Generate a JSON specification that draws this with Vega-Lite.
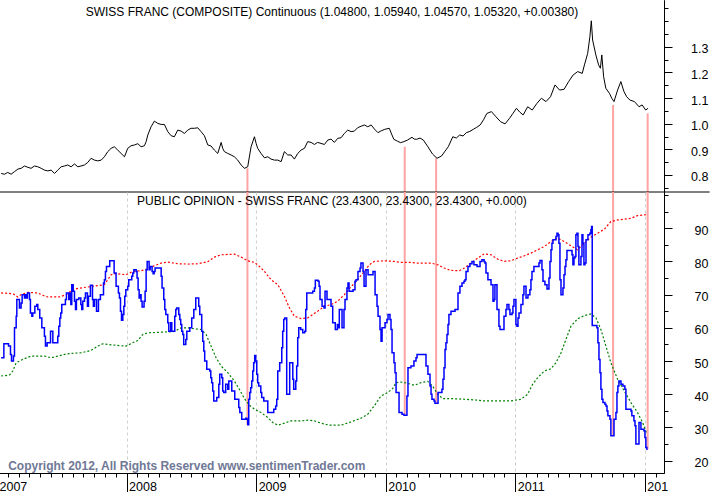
{
  "$schema": "https://vega.github.io/schema/vega-lite/v6.json",
  "description": "Swiss franc price vs public opinion",
  "padding": {"left": -4, "top": 0, "right": 0, "bottom": 0},
  "background": "white",
  "spacing": 0,
  "bounds": "flush",
  "config": {
    "font": "Liberation Sans",
    "view": {"stroke": null},
    "axis": {"labelColor": "black", "domainColor": "black", "tickColor": "black", "labelFont": "Liberation Sans", "title": null}
  },
  "datasets": {
    "events": [
      {"t": 2008.933, "p": 0.826, "s": 30.8},
      {"t": 2010.147, "p": 0.910, "s": 33.7},
      {"t": 2010.389, "p": 0.865, "s": 37.3},
      {"t": 2011.755, "p": 1.073, "s": 27.5},
      {"t": 2012.022, "p": 1.040, "s": 23.5}
    ],
    "price": [
      {"t": 2007.032, "v": 0.806}, {"t": 2007.058, "v": 0.803}, {"t": 2007.083, "v": 0.810}, {"t": 2007.109, "v": 0.803},
      {"t": 2007.135, "v": 0.813}, {"t": 2007.161, "v": 0.823}, {"t": 2007.186, "v": 0.826}, {"t": 2007.212, "v": 0.835},
      {"t": 2007.238, "v": 0.830}, {"t": 2007.263, "v": 0.826}, {"t": 2007.289, "v": 0.835}, {"t": 2007.315, "v": 0.832},
      {"t": 2007.341, "v": 0.826}, {"t": 2007.366, "v": 0.819}, {"t": 2007.392, "v": 0.816}, {"t": 2007.418, "v": 0.819},
      {"t": 2007.444, "v": 0.806}, {"t": 2007.469, "v": 0.819}, {"t": 2007.495, "v": 0.832}, {"t": 2007.521, "v": 0.835},
      {"t": 2007.546, "v": 0.839}, {"t": 2007.572, "v": 0.832}, {"t": 2007.598, "v": 0.843}, {"t": 2007.624, "v": 0.832},
      {"t": 2007.649, "v": 0.835}, {"t": 2007.675, "v": 0.839}, {"t": 2007.701, "v": 0.849}, {"t": 2007.726, "v": 0.865},
      {"t": 2007.752, "v": 0.858}, {"t": 2007.778, "v": 0.855}, {"t": 2007.804, "v": 0.858}, {"t": 2007.829, "v": 0.871},
      {"t": 2007.855, "v": 0.891}, {"t": 2007.881, "v": 0.904}, {"t": 2007.906, "v": 0.910}, {"t": 2007.932, "v": 0.897},
      {"t": 2007.958, "v": 0.884}, {"t": 2007.984, "v": 0.871}, {"t": 2008.009, "v": 0.904}, {"t": 2008.035, "v": 0.914},
      {"t": 2008.061, "v": 0.917}, {"t": 2008.087, "v": 0.922}, {"t": 2008.112, "v": 0.910}, {"t": 2008.138, "v": 0.914},
      {"t": 2008.151, "v": 0.930}, {"t": 2008.164, "v": 0.956}, {"t": 2008.189, "v": 0.988}, {"t": 2008.215, "v": 1.010},
      {"t": 2008.241, "v": 1.001}, {"t": 2008.267, "v": 0.997}, {"t": 2008.292, "v": 0.997}, {"t": 2008.318, "v": 0.969},
      {"t": 2008.344, "v": 0.953}, {"t": 2008.369, "v": 0.949}, {"t": 2008.395, "v": 0.975}, {"t": 2008.421, "v": 0.971},
      {"t": 2008.447, "v": 0.962}, {"t": 2008.472, "v": 0.975}, {"t": 2008.498, "v": 0.982}, {"t": 2008.524, "v": 0.982},
      {"t": 2008.549, "v": 0.984}, {"t": 2008.575, "v": 0.969}, {"t": 2008.601, "v": 0.953}, {"t": 2008.627, "v": 0.917},
      {"t": 2008.652, "v": 0.913}, {"t": 2008.678, "v": 0.897}, {"t": 2008.704, "v": 0.884}, {"t": 2008.730, "v": 0.927},
      {"t": 2008.742, "v": 0.904}, {"t": 2008.755, "v": 0.891}, {"t": 2008.781, "v": 0.884}, {"t": 2008.807, "v": 0.878},
      {"t": 2008.832, "v": 0.871}, {"t": 2008.858, "v": 0.858}, {"t": 2008.884, "v": 0.839}, {"t": 2008.910, "v": 0.826},
      {"t": 2008.935, "v": 0.832}, {"t": 2008.961, "v": 0.910}, {"t": 2008.987, "v": 0.949}, {"t": 2009.000, "v": 0.923},
      {"t": 2009.012, "v": 0.904}, {"t": 2009.038, "v": 0.884}, {"t": 2009.064, "v": 0.867}, {"t": 2009.090, "v": 0.871},
      {"t": 2009.115, "v": 0.862}, {"t": 2009.141, "v": 0.858}, {"t": 2009.167, "v": 0.858}, {"t": 2009.193, "v": 0.852},
      {"t": 2009.218, "v": 0.891}, {"t": 2009.244, "v": 0.878}, {"t": 2009.270, "v": 0.878}, {"t": 2009.295, "v": 0.862},
      {"t": 2009.321, "v": 0.884}, {"t": 2009.347, "v": 0.897}, {"t": 2009.373, "v": 0.904}, {"t": 2009.398, "v": 0.930},
      {"t": 2009.424, "v": 0.927}, {"t": 2009.450, "v": 0.919}, {"t": 2009.475, "v": 0.927}, {"t": 2009.501, "v": 0.923},
      {"t": 2009.527, "v": 0.919}, {"t": 2009.553, "v": 0.936}, {"t": 2009.578, "v": 0.940}, {"t": 2009.604, "v": 0.927},
      {"t": 2009.630, "v": 0.943}, {"t": 2009.655, "v": 0.945}, {"t": 2009.681, "v": 0.962}, {"t": 2009.707, "v": 0.975},
      {"t": 2009.733, "v": 0.969}, {"t": 2009.758, "v": 0.971}, {"t": 2009.783, "v": 0.984}, {"t": 2009.810, "v": 0.990},
      {"t": 2009.835, "v": 0.995}, {"t": 2009.862, "v": 0.988}, {"t": 2009.888, "v": 0.995}, {"t": 2009.915, "v": 0.978},
      {"t": 2009.940, "v": 0.965}, {"t": 2009.965, "v": 0.972}, {"t": 2009.993, "v": 0.978}, {"t": 2010.028, "v": 0.982},
      {"t": 2010.045, "v": 0.960}, {"t": 2010.063, "v": 0.939}, {"t": 2010.090, "v": 0.932}, {"t": 2010.115, "v": 0.926},
      {"t": 2010.140, "v": 0.930}, {"t": 2010.168, "v": 0.936}, {"t": 2010.203, "v": 0.947}, {"t": 2010.220, "v": 0.940},
      {"t": 2010.238, "v": 0.939}, {"t": 2010.265, "v": 0.944}, {"t": 2010.291, "v": 0.936}, {"t": 2010.326, "v": 0.910},
      {"t": 2010.361, "v": 0.882}, {"t": 2010.396, "v": 0.865}, {"t": 2010.431, "v": 0.874}, {"t": 2010.458, "v": 0.893},
      {"t": 2010.483, "v": 0.910}, {"t": 2010.518, "v": 0.949}, {"t": 2010.545, "v": 0.944}, {"t": 2010.571, "v": 0.956},
      {"t": 2010.597, "v": 0.952}, {"t": 2010.623, "v": 0.965}, {"t": 2010.650, "v": 0.970}, {"t": 2010.676, "v": 0.978},
      {"t": 2010.703, "v": 0.986}, {"t": 2010.729, "v": 0.995}, {"t": 2010.755, "v": 1.015}, {"t": 2010.781, "v": 1.040},
      {"t": 2010.816, "v": 1.047}, {"t": 2010.851, "v": 1.027}, {"t": 2010.886, "v": 1.008}, {"t": 2010.921, "v": 0.999},
      {"t": 2010.956, "v": 1.021}, {"t": 2010.982, "v": 1.040}, {"t": 2011.009, "v": 1.060}, {"t": 2011.035, "v": 1.045},
      {"t": 2011.061, "v": 1.034}, {"t": 2011.096, "v": 1.066}, {"t": 2011.131, "v": 1.053}, {"t": 2011.167, "v": 1.079},
      {"t": 2011.202, "v": 1.099}, {"t": 2011.237, "v": 1.086}, {"t": 2011.272, "v": 1.105}, {"t": 2011.307, "v": 1.151},
      {"t": 2011.342, "v": 1.131}, {"t": 2011.377, "v": 1.134}, {"t": 2011.412, "v": 1.164}, {"t": 2011.447, "v": 1.190},
      {"t": 2011.482, "v": 1.203}, {"t": 2011.517, "v": 1.196}, {"t": 2011.534, "v": 1.229}, {"t": 2011.559, "v": 1.274},
      {"t": 2011.576, "v": 1.339}, {"t": 2011.587, "v": 1.401}, {"t": 2011.597, "v": 1.326}, {"t": 2011.622, "v": 1.268},
      {"t": 2011.643, "v": 1.229}, {"t": 2011.657, "v": 1.216}, {"t": 2011.668, "v": 1.268}, {"t": 2011.682, "v": 1.183},
      {"t": 2011.699, "v": 1.138}, {"t": 2011.727, "v": 1.118}, {"t": 2011.745, "v": 1.099}, {"t": 2011.762, "v": 1.086},
      {"t": 2011.790, "v": 1.131}, {"t": 2011.815, "v": 1.164}, {"t": 2011.839, "v": 1.125}, {"t": 2011.860, "v": 1.105},
      {"t": 2011.885, "v": 1.092}, {"t": 2011.920, "v": 1.086}, {"t": 2011.955, "v": 1.066}, {"t": 2011.979, "v": 1.073},
      {"t": 2012.007, "v": 1.053}, {"t": 2012.025, "v": 1.060}
    ],
    "opinion": [
      {"t": 2007.032, "v": 51}, {"t": 2007.053, "v": 55.2}, {"t": 2007.089, "v": 54.5}, {"t": 2007.104, "v": 52},
      {"t": 2007.112, "v": 50}, {"t": 2007.127, "v": 51.5}, {"t": 2007.135, "v": 60}, {"t": 2007.148, "v": 63.5},
      {"t": 2007.153, "v": 68.5}, {"t": 2007.173, "v": 66}, {"t": 2007.186, "v": 67.5}, {"t": 2007.194, "v": 70},
      {"t": 2007.212, "v": 69}, {"t": 2007.220, "v": 70}, {"t": 2007.227, "v": 69}, {"t": 2007.235, "v": 70.5},
      {"t": 2007.251, "v": 68.5}, {"t": 2007.258, "v": 64.5}, {"t": 2007.269, "v": 63.5}, {"t": 2007.276, "v": 64.5},
      {"t": 2007.292, "v": 66.5}, {"t": 2007.307, "v": 67}, {"t": 2007.315, "v": 65.5}, {"t": 2007.330, "v": 63},
      {"t": 2007.346, "v": 60}, {"t": 2007.366, "v": 57.5}, {"t": 2007.374, "v": 54.5}, {"t": 2007.387, "v": 55.5},
      {"t": 2007.413, "v": 59}, {"t": 2007.431, "v": 55.5}, {"t": 2007.469, "v": 57.5}, {"t": 2007.477, "v": 60.5},
      {"t": 2007.485, "v": 63}, {"t": 2007.492, "v": 64.5}, {"t": 2007.500, "v": 67}, {"t": 2007.528, "v": 68.5},
      {"t": 2007.536, "v": 70.5}, {"t": 2007.554, "v": 68.5}, {"t": 2007.562, "v": 70.5}, {"t": 2007.570, "v": 67},
      {"t": 2007.577, "v": 73}, {"t": 2007.588, "v": 71}, {"t": 2007.598, "v": 68}, {"t": 2007.606, "v": 65.5},
      {"t": 2007.613, "v": 68.5}, {"t": 2007.631, "v": 69}, {"t": 2007.647, "v": 67}, {"t": 2007.654, "v": 65.5},
      {"t": 2007.662, "v": 68}, {"t": 2007.675, "v": 69}, {"t": 2007.683, "v": 70.5}, {"t": 2007.698, "v": 66.5},
      {"t": 2007.706, "v": 69.5}, {"t": 2007.721, "v": 72.8}, {"t": 2007.737, "v": 68.5}, {"t": 2007.744, "v": 66.5},
      {"t": 2007.752, "v": 68.5}, {"t": 2007.768, "v": 65}, {"t": 2007.783, "v": 68.5}, {"t": 2007.798, "v": 70},
      {"t": 2007.822, "v": 73.5}, {"t": 2007.829, "v": 74.5}, {"t": 2007.837, "v": 77}, {"t": 2007.845, "v": 78.5},
      {"t": 2007.870, "v": 80.2}, {"t": 2007.904, "v": 76.5}, {"t": 2007.919, "v": 72.5}, {"t": 2007.937, "v": 70.5},
      {"t": 2007.945, "v": 69}, {"t": 2007.953, "v": 65}, {"t": 2007.961, "v": 62.3}, {"t": 2007.971, "v": 64},
      {"t": 2007.979, "v": 66.5}, {"t": 2007.986, "v": 69.5}, {"t": 2007.994, "v": 71.5}, {"t": 2008.009, "v": 72.5},
      {"t": 2008.017, "v": 74.5}, {"t": 2008.040, "v": 75.5}, {"t": 2008.048, "v": 76.5}, {"t": 2008.056, "v": 77.5},
      {"t": 2008.074, "v": 77}, {"t": 2008.081, "v": 75}, {"t": 2008.089, "v": 71.5}, {"t": 2008.097, "v": 69},
      {"t": 2008.105, "v": 70}, {"t": 2008.112, "v": 68}, {"t": 2008.120, "v": 66.3}, {"t": 2008.135, "v": 68},
      {"t": 2008.143, "v": 71}, {"t": 2008.151, "v": 77.5}, {"t": 2008.159, "v": 80}, {"t": 2008.174, "v": 77.5},
      {"t": 2008.182, "v": 78.5}, {"t": 2008.197, "v": 77}, {"t": 2008.205, "v": 76.3}, {"t": 2008.213, "v": 77},
      {"t": 2008.220, "v": 78}, {"t": 2008.267, "v": 75.5}, {"t": 2008.274, "v": 72}, {"t": 2008.287, "v": 68.5},
      {"t": 2008.295, "v": 65.5}, {"t": 2008.303, "v": 64}, {"t": 2008.318, "v": 61.5}, {"t": 2008.326, "v": 59},
      {"t": 2008.341, "v": 61.5}, {"t": 2008.349, "v": 59}, {"t": 2008.372, "v": 63.5}, {"t": 2008.380, "v": 65.5},
      {"t": 2008.387, "v": 66}, {"t": 2008.403, "v": 64}, {"t": 2008.411, "v": 62.5}, {"t": 2008.418, "v": 61},
      {"t": 2008.426, "v": 59}, {"t": 2008.434, "v": 58}, {"t": 2008.441, "v": 55}, {"t": 2008.457, "v": 56.5},
      {"t": 2008.465, "v": 59}, {"t": 2008.488, "v": 60}, {"t": 2008.503, "v": 63}, {"t": 2008.519, "v": 65.5},
      {"t": 2008.534, "v": 69}, {"t": 2008.557, "v": 66.5}, {"t": 2008.565, "v": 64}, {"t": 2008.580, "v": 59},
      {"t": 2008.588, "v": 56}, {"t": 2008.596, "v": 53}, {"t": 2008.603, "v": 50}, {"t": 2008.619, "v": 47.5},
      {"t": 2008.642, "v": 47}, {"t": 2008.650, "v": 45}, {"t": 2008.657, "v": 43.5}, {"t": 2008.665, "v": 41},
      {"t": 2008.673, "v": 38}, {"t": 2008.696, "v": 39}, {"t": 2008.712, "v": 43}, {"t": 2008.719, "v": 46},
      {"t": 2008.735, "v": 45}, {"t": 2008.742, "v": 41}, {"t": 2008.750, "v": 40.5}, {"t": 2008.765, "v": 43},
      {"t": 2008.781, "v": 41.5}, {"t": 2008.789, "v": 44}, {"t": 2008.812, "v": 41}, {"t": 2008.835, "v": 38.5},
      {"t": 2008.866, "v": 36}, {"t": 2008.874, "v": 34.5}, {"t": 2008.889, "v": 32.5}, {"t": 2008.920, "v": 32.8},
      {"t": 2008.928, "v": 32.5}, {"t": 2008.935, "v": 30.8}, {"t": 2008.943, "v": 38.5}, {"t": 2008.951, "v": 40.5},
      {"t": 2008.958, "v": 42}, {"t": 2008.966, "v": 44}, {"t": 2008.974, "v": 47}, {"t": 2008.981, "v": 49.5},
      {"t": 2008.989, "v": 51.7}, {"t": 2008.997, "v": 50}, {"t": 2009.005, "v": 46}, {"t": 2009.012, "v": 43.5},
      {"t": 2009.020, "v": 42.5}, {"t": 2009.036, "v": 40.5}, {"t": 2009.043, "v": 39}, {"t": 2009.059, "v": 38},
      {"t": 2009.090, "v": 34.5}, {"t": 2009.136, "v": 35.5}, {"t": 2009.151, "v": 36.5}, {"t": 2009.159, "v": 38.5},
      {"t": 2009.167, "v": 47}, {"t": 2009.182, "v": 49.5}, {"t": 2009.198, "v": 54}, {"t": 2009.205, "v": 59},
      {"t": 2009.213, "v": 62.5}, {"t": 2009.221, "v": 63}, {"t": 2009.236, "v": 40}, {"t": 2009.259, "v": 49.5},
      {"t": 2009.283, "v": 44.5}, {"t": 2009.290, "v": 41.5}, {"t": 2009.306, "v": 44}, {"t": 2009.313, "v": 48.5},
      {"t": 2009.321, "v": 57}, {"t": 2009.329, "v": 60}, {"t": 2009.344, "v": 59.5}, {"t": 2009.360, "v": 58.5},
      {"t": 2009.375, "v": 59}, {"t": 2009.383, "v": 65.5}, {"t": 2009.391, "v": 70.5}, {"t": 2009.437, "v": 71},
      {"t": 2009.450, "v": 72}, {"t": 2009.457, "v": 74.3}, {"t": 2009.478, "v": 74}, {"t": 2009.486, "v": 72.5},
      {"t": 2009.493, "v": 68.5}, {"t": 2009.509, "v": 66.5}, {"t": 2009.524, "v": 66}, {"t": 2009.532, "v": 71},
      {"t": 2009.547, "v": 68.5}, {"t": 2009.578, "v": 66.5}, {"t": 2009.591, "v": 61.5}, {"t": 2009.611, "v": 59.5},
      {"t": 2009.627, "v": 61}, {"t": 2009.635, "v": 60}, {"t": 2009.642, "v": 65.5}, {"t": 2009.663, "v": 60},
      {"t": 2009.678, "v": 65.5}, {"t": 2009.686, "v": 68.5}, {"t": 2009.701, "v": 72}, {"t": 2009.709, "v": 73.5},
      {"t": 2009.717, "v": 71}, {"t": 2009.748, "v": 71.5}, {"t": 2009.763, "v": 74}, {"t": 2009.771, "v": 74.5},
      {"t": 2009.786, "v": 77}, {"t": 2009.802, "v": 78}, {"t": 2009.809, "v": 79.5}, {"t": 2009.825, "v": 77},
      {"t": 2009.833, "v": 72.5}, {"t": 2009.848, "v": 77.5}, {"t": 2009.864, "v": 76}, {"t": 2009.879, "v": 76},
      {"t": 2009.902, "v": 77}, {"t": 2009.918, "v": 70}, {"t": 2009.933, "v": 66.5}, {"t": 2009.941, "v": 63.5},
      {"t": 2009.956, "v": 59.5}, {"t": 2009.964, "v": 56}, {"t": 2009.972, "v": 60}, {"t": 2009.995, "v": 61.5},
      {"t": 2010.010, "v": 62.5}, {"t": 2010.018, "v": 64}, {"t": 2010.033, "v": 62.5}, {"t": 2010.041, "v": 59.5},
      {"t": 2010.049, "v": 52.5}, {"t": 2010.064, "v": 49.5}, {"t": 2010.072, "v": 46.5}, {"t": 2010.080, "v": 40.5},
      {"t": 2010.103, "v": 34.5}, {"t": 2010.126, "v": 34}, {"t": 2010.141, "v": 33.7}, {"t": 2010.164, "v": 39.5},
      {"t": 2010.172, "v": 48}, {"t": 2010.195, "v": 48.5}, {"t": 2010.218, "v": 50}, {"t": 2010.234, "v": 51},
      {"t": 2010.242, "v": 52}, {"t": 2010.303, "v": 52}, {"t": 2010.311, "v": 48.5}, {"t": 2010.326, "v": 46},
      {"t": 2010.342, "v": 42.5}, {"t": 2010.350, "v": 40}, {"t": 2010.357, "v": 38.5}, {"t": 2010.373, "v": 38},
      {"t": 2010.380, "v": 37.3}, {"t": 2010.404, "v": 40.5}, {"t": 2010.434, "v": 41.5}, {"t": 2010.442, "v": 44.5},
      {"t": 2010.450, "v": 48}, {"t": 2010.458, "v": 53.5}, {"t": 2010.465, "v": 55.5}, {"t": 2010.473, "v": 58},
      {"t": 2010.481, "v": 61}, {"t": 2010.488, "v": 64}, {"t": 2010.504, "v": 65}, {"t": 2010.535, "v": 65.5},
      {"t": 2010.558, "v": 70.5}, {"t": 2010.573, "v": 72.5}, {"t": 2010.589, "v": 73.5}, {"t": 2010.604, "v": 74},
      {"t": 2010.612, "v": 74.5}, {"t": 2010.620, "v": 77}, {"t": 2010.635, "v": 78.5}, {"t": 2010.650, "v": 79.3},
      {"t": 2010.666, "v": 80}, {"t": 2010.681, "v": 79}, {"t": 2010.705, "v": 78.5}, {"t": 2010.728, "v": 80},
      {"t": 2010.743, "v": 80.5}, {"t": 2010.759, "v": 80}, {"t": 2010.766, "v": 79.5}, {"t": 2010.774, "v": 76.5},
      {"t": 2010.789, "v": 74.5}, {"t": 2010.813, "v": 73}, {"t": 2010.828, "v": 68}, {"t": 2010.836, "v": 68.5},
      {"t": 2010.843, "v": 73}, {"t": 2010.859, "v": 65.5}, {"t": 2010.874, "v": 60.5}, {"t": 2010.882, "v": 59.5},
      {"t": 2010.913, "v": 63.5}, {"t": 2010.928, "v": 65.5}, {"t": 2010.936, "v": 67}, {"t": 2010.951, "v": 65.5},
      {"t": 2010.959, "v": 64}, {"t": 2010.975, "v": 64.5}, {"t": 2010.982, "v": 66.5}, {"t": 2010.990, "v": 68.5},
      {"t": 2011.005, "v": 61}, {"t": 2011.013, "v": 60.5}, {"t": 2011.021, "v": 63}, {"t": 2011.029, "v": 64.5},
      {"t": 2011.044, "v": 67}, {"t": 2011.059, "v": 70}, {"t": 2011.067, "v": 72.5}, {"t": 2011.083, "v": 69},
      {"t": 2011.098, "v": 70}, {"t": 2011.113, "v": 71.5}, {"t": 2011.121, "v": 74.5}, {"t": 2011.129, "v": 77},
      {"t": 2011.144, "v": 78.5}, {"t": 2011.183, "v": 79.5}, {"t": 2011.191, "v": 80.3}, {"t": 2011.206, "v": 77.5},
      {"t": 2011.214, "v": 74}, {"t": 2011.229, "v": 73}, {"t": 2011.245, "v": 71.7}, {"t": 2011.260, "v": 75},
      {"t": 2011.268, "v": 80}, {"t": 2011.276, "v": 83.5}, {"t": 2011.283, "v": 85.5}, {"t": 2011.291, "v": 86.5},
      {"t": 2011.314, "v": 87.5}, {"t": 2011.322, "v": 88.5}, {"t": 2011.330, "v": 88}, {"t": 2011.337, "v": 85.5},
      {"t": 2011.345, "v": 74.5}, {"t": 2011.353, "v": 70}, {"t": 2011.368, "v": 72}, {"t": 2011.376, "v": 76},
      {"t": 2011.384, "v": 78.5}, {"t": 2011.391, "v": 80.5}, {"t": 2011.399, "v": 83.3}, {"t": 2011.438, "v": 82},
      {"t": 2011.445, "v": 79}, {"t": 2011.453, "v": 81}, {"t": 2011.461, "v": 81.5}, {"t": 2011.468, "v": 88},
      {"t": 2011.476, "v": 88.5}, {"t": 2011.484, "v": 84.5}, {"t": 2011.491, "v": 79}, {"t": 2011.507, "v": 81.5},
      {"t": 2011.515, "v": 88}, {"t": 2011.522, "v": 85.5}, {"t": 2011.530, "v": 79}, {"t": 2011.538, "v": 79.5},
      {"t": 2011.546, "v": 86.5}, {"t": 2011.561, "v": 88}, {"t": 2011.576, "v": 88.5}, {"t": 2011.584, "v": 89.5},
      {"t": 2011.589, "v": 90.5}, {"t": 2011.594, "v": 60.7}, {"t": 2011.630, "v": 60}, {"t": 2011.638, "v": 55.5},
      {"t": 2011.646, "v": 50.5}, {"t": 2011.654, "v": 46.5}, {"t": 2011.661, "v": 41.5}, {"t": 2011.669, "v": 38.5},
      {"t": 2011.677, "v": 37.5}, {"t": 2011.692, "v": 37}, {"t": 2011.700, "v": 36.5}, {"t": 2011.708, "v": 35},
      {"t": 2011.715, "v": 33.5}, {"t": 2011.731, "v": 32.5}, {"t": 2011.738, "v": 27.5}, {"t": 2011.762, "v": 32.5},
      {"t": 2011.777, "v": 34.5}, {"t": 2011.785, "v": 40.5}, {"t": 2011.792, "v": 42.5}, {"t": 2011.800, "v": 44},
      {"t": 2011.816, "v": 43}, {"t": 2011.831, "v": 42.5}, {"t": 2011.846, "v": 41.5}, {"t": 2011.854, "v": 35.5},
      {"t": 2011.893, "v": 35}, {"t": 2011.900, "v": 33.5}, {"t": 2011.916, "v": 32}, {"t": 2011.924, "v": 30.5},
      {"t": 2011.931, "v": 25}, {"t": 2011.955, "v": 31.5}, {"t": 2011.970, "v": 29.5}, {"t": 2011.993, "v": 29},
      {"t": 2012.001, "v": 27}, {"t": 2012.008, "v": 24}, {"t": 2012.016, "v": 23.43}, {"t": 2012.022, "v": 23.43}
    ],
    "upper": [
      {"t": 2007.032, "v": 70.5}, {"t": 2007.122, "v": 70.3}, {"t": 2007.161, "v": 69.3}, {"t": 2007.186, "v": 70},
      {"t": 2007.238, "v": 70.7}, {"t": 2007.315, "v": 70.5}, {"t": 2007.354, "v": 69.8}, {"t": 2007.392, "v": 69.3},
      {"t": 2007.482, "v": 69.3}, {"t": 2007.534, "v": 70}, {"t": 2007.585, "v": 71.5}, {"t": 2007.624, "v": 71.9},
      {"t": 2007.701, "v": 72.3}, {"t": 2007.778, "v": 72.7}, {"t": 2007.829, "v": 73}, {"t": 2007.855, "v": 74.5},
      {"t": 2007.881, "v": 76}, {"t": 2007.919, "v": 76.3}, {"t": 2007.997, "v": 76}, {"t": 2008.048, "v": 77},
      {"t": 2008.112, "v": 77.2}, {"t": 2008.164, "v": 77.7}, {"t": 2008.215, "v": 78.7}, {"t": 2008.267, "v": 79.5},
      {"t": 2008.318, "v": 79.8}, {"t": 2008.395, "v": 79.3}, {"t": 2008.472, "v": 79.2}, {"t": 2008.549, "v": 79.3},
      {"t": 2008.627, "v": 79.9}, {"t": 2008.678, "v": 81.3}, {"t": 2008.730, "v": 82}, {"t": 2008.832, "v": 82.2},
      {"t": 2008.884, "v": 81.3}, {"t": 2008.935, "v": 80.2}, {"t": 2008.987, "v": 79.7}, {"t": 2009.025, "v": 78.5},
      {"t": 2009.064, "v": 77}, {"t": 2009.115, "v": 74.5}, {"t": 2009.167, "v": 73}, {"t": 2009.218, "v": 69.5},
      {"t": 2009.257, "v": 66}, {"t": 2009.295, "v": 63.5}, {"t": 2009.347, "v": 62.8}, {"t": 2009.398, "v": 63},
      {"t": 2009.437, "v": 64}, {"t": 2009.475, "v": 65}, {"t": 2009.527, "v": 66.5}, {"t": 2009.578, "v": 67},
      {"t": 2009.629, "v": 68}, {"t": 2009.681, "v": 70}, {"t": 2009.732, "v": 72.3}, {"t": 2009.784, "v": 74.5},
      {"t": 2009.835, "v": 77}, {"t": 2009.874, "v": 79}, {"t": 2009.912, "v": 80}, {"t": 2009.990, "v": 80.2},
      {"t": 2010.067, "v": 80}, {"t": 2010.118, "v": 79.7}, {"t": 2010.195, "v": 79.7}, {"t": 2010.247, "v": 79.5},
      {"t": 2010.350, "v": 79.5}, {"t": 2010.401, "v": 79}, {"t": 2010.452, "v": 78}, {"t": 2010.504, "v": 77.3},
      {"t": 2010.568, "v": 77.2}, {"t": 2010.607, "v": 78}, {"t": 2010.658, "v": 79.5}, {"t": 2010.710, "v": 81},
      {"t": 2010.761, "v": 82.3}, {"t": 2010.813, "v": 82}, {"t": 2010.864, "v": 80.7}, {"t": 2010.915, "v": 80},
      {"t": 2010.967, "v": 80.2}, {"t": 2011.018, "v": 81}, {"t": 2011.070, "v": 81.7}, {"t": 2011.121, "v": 82.5},
      {"t": 2011.173, "v": 83.5}, {"t": 2011.224, "v": 84.5}, {"t": 2011.276, "v": 86}, {"t": 2011.327, "v": 87},
      {"t": 2011.378, "v": 86}, {"t": 2011.430, "v": 84.7}, {"t": 2011.481, "v": 83.5}, {"t": 2011.533, "v": 85.5},
      {"t": 2011.584, "v": 87.3}, {"t": 2011.636, "v": 88.5}, {"t": 2011.687, "v": 89.7}, {"t": 2011.738, "v": 92},
      {"t": 2011.790, "v": 92.5}, {"t": 2011.841, "v": 92.7}, {"t": 2011.893, "v": 93}, {"t": 2011.944, "v": 93.8},
      {"t": 2012.021, "v": 94.1}
    ],
    "lower": [
      {"t": 2007.032, "v": 45.5}, {"t": 2007.096, "v": 45.8}, {"t": 2007.122, "v": 47}, {"t": 2007.148, "v": 49.5},
      {"t": 2007.199, "v": 50.5}, {"t": 2007.263, "v": 51.5}, {"t": 2007.328, "v": 51.5}, {"t": 2007.366, "v": 51.5},
      {"t": 2007.418, "v": 51}, {"t": 2007.469, "v": 51.5}, {"t": 2007.521, "v": 52}, {"t": 2007.572, "v": 52.3},
      {"t": 2007.649, "v": 52.5}, {"t": 2007.726, "v": 53.2}, {"t": 2007.778, "v": 54.5}, {"t": 2007.816, "v": 55.2},
      {"t": 2007.881, "v": 54.9}, {"t": 2007.932, "v": 54.7}, {"t": 2007.997, "v": 54.5}, {"t": 2008.035, "v": 55.3},
      {"t": 2008.087, "v": 56.2}, {"t": 2008.125, "v": 58}, {"t": 2008.164, "v": 58.5}, {"t": 2008.267, "v": 58.7},
      {"t": 2008.369, "v": 58.9}, {"t": 2008.421, "v": 60}, {"t": 2008.472, "v": 60}, {"t": 2008.524, "v": 59.7},
      {"t": 2008.575, "v": 59.5}, {"t": 2008.614, "v": 58}, {"t": 2008.652, "v": 54.5}, {"t": 2008.691, "v": 51},
      {"t": 2008.730, "v": 48.5}, {"t": 2008.781, "v": 46.5}, {"t": 2008.832, "v": 44}, {"t": 2008.871, "v": 41.5},
      {"t": 2008.910, "v": 38.7}, {"t": 2008.948, "v": 36.7}, {"t": 2008.987, "v": 35.5}, {"t": 2009.038, "v": 34.5},
      {"t": 2009.090, "v": 33}, {"t": 2009.128, "v": 31.5}, {"t": 2009.167, "v": 30.7}, {"t": 2009.218, "v": 31.3},
      {"t": 2009.270, "v": 32}, {"t": 2009.347, "v": 32}, {"t": 2009.398, "v": 32.2}, {"t": 2009.450, "v": 32},
      {"t": 2009.501, "v": 31.3}, {"t": 2009.565, "v": 30.7}, {"t": 2009.655, "v": 30.7}, {"t": 2009.732, "v": 31.7},
      {"t": 2009.809, "v": 32.8}, {"t": 2009.861, "v": 34}, {"t": 2009.912, "v": 36.5}, {"t": 2009.964, "v": 39.5},
      {"t": 2010.015, "v": 40.5}, {"t": 2010.054, "v": 41.7}, {"t": 2010.080, "v": 43.5}, {"t": 2010.118, "v": 43.7},
      {"t": 2010.170, "v": 43.3}, {"t": 2010.221, "v": 42.7}, {"t": 2010.272, "v": 43.5}, {"t": 2010.324, "v": 43.9},
      {"t": 2010.362, "v": 42.5}, {"t": 2010.401, "v": 40}, {"t": 2010.440, "v": 38.7}, {"t": 2010.504, "v": 38.7},
      {"t": 2010.607, "v": 38.5}, {"t": 2010.684, "v": 38.3}, {"t": 2010.761, "v": 38}, {"t": 2010.864, "v": 38},
      {"t": 2010.967, "v": 38}, {"t": 2011.044, "v": 38.5}, {"t": 2011.095, "v": 40}, {"t": 2011.134, "v": 43},
      {"t": 2011.173, "v": 45}, {"t": 2011.224, "v": 47}, {"t": 2011.276, "v": 47.7}, {"t": 2011.314, "v": 49.5},
      {"t": 2011.353, "v": 52.5}, {"t": 2011.391, "v": 56.5}, {"t": 2011.430, "v": 60.5}, {"t": 2011.481, "v": 62.7},
      {"t": 2011.533, "v": 63.7}, {"t": 2011.584, "v": 64.2}, {"t": 2011.623, "v": 63}, {"t": 2011.661, "v": 59.5},
      {"t": 2011.700, "v": 54.5}, {"t": 2011.738, "v": 49.5}, {"t": 2011.790, "v": 44.5}, {"t": 2011.841, "v": 41},
      {"t": 2011.893, "v": 37.5}, {"t": 2011.944, "v": 34.5}, {"t": 2011.983, "v": 31.5}, {"t": 2012.016, "v": 28}
    ]
  },
  "vconcat": [
    {
      "width": 667,
      "height": 192,
      "resolve": {"axis": {"y": "independent"}},
      "layer": [
        {
          "data": {"name": "events"},
          "mark": {"type": "rule", "color": "#ffa3a3", "strokeWidth": 2},
          "encoding": {
            "x": {"field": "t", "type": "quantitative",
              "scale": {"domain": [2007, 2012.148], "nice": false, "zero": false},
              "axis": {"orient": "bottom", "values": [2008, 2009, 2010, 2011, 2012], "labels": false, "ticks": false,
                "domain": false, "grid": true, "gridColor": "#cfcfcf", "gridDash": [3, 3]}},
            "y": {"field": "p", "type": "quantitative",
              "scale": {"domain": [0.7337, 1.482], "nice": false, "zero": false},
              "axis": {"orient": "right", "grid": false, "domain": true,
                "values": [0.8, 0.9, 1.0, 1.1, 1.2, 1.3], "format": ".1f", "tickSize": 8,
                "labelAlign": "right", "labelPadding": 36, "labelOffset": 2, "labelFontSize": 12.5,
                "labelOverlap": false, "labelFlush": false, "labelBound": false}},
            "y2": {"datum": 0.7337}
          }
        },
        {
          "data": {"name": "price"},
          "mark": {"type": "line", "color": "black", "strokeWidth": 1},
          "encoding": {
            "x": {"field": "t", "type": "quantitative", "axis": null},
            "y": {"field": "v", "type": "quantitative",
              "axis": {"orient": "right", "grid": false, "domain": true, "labels": false, "tickSize": 4,
                "values": [0.75, 0.85, 0.95, 1.05, 1.15, 1.25, 1.35, 1.4, 1.45]}}
          }
        },
        {
          "data": {"values": [{"label": "SWISS FRANC (COMPOSITE) Continuous (1.04800, 1.05940, 1.04570, 1.05320, +0.00380)"}]},
          "mark": {"type": "text", "align": "center", "baseline": "alphabetic", "fontSize": 12, "color": "black"},
          "encoding": {
            "x": {"datum": 2009.585, "axis": null},
            "y": {"datum": 1.4196, "axis": null},
            "text": {"field": "label"}
          }
        },
        {
          "data": {"values": [{}]},
          "mark": {"type": "rule", "color": "black", "strokeWidth": 1},
          "encoding": {
            "x": {"datum": 2007, "axis": null},
            "x2": {"datum": 2012.5},
            "y": {"datum": 0.7337, "axis": null}
          }
        }
      ]
    },
    {
      "width": 667,
      "height": 281,
      "resolve": {"axis": {"x": "independent", "y": "independent"}},
      "layer": [
        {
          "data": {"name": "events"},
          "mark": {"type": "rule", "color": "#ffa3a3", "strokeWidth": 2},
          "encoding": {
            "x": {"field": "t", "type": "quantitative",
              "scale": {"domain": [2007, 2012.148], "nice": false, "zero": false},
              "axis": {"orient": "bottom", "values": [2007, 2008, 2009, 2010, 2011, 2012],
                "grid": true, "gridColor": "#cfcfcf", "gridDash": [3, 3], "domain": false,
                "tickSize": 19,
                "labelExpr": "datum.value == 2012 ? '201' : '' + datum.value",
                "labelAlign": "left", "labelBaseline": "alphabetic", "labelOffset": 2, "labelPadding": -2, "labelFontSize": 12.5,
                "labelOverlap": false, "labelFlush": false, "labelBound": false}},
            "y": {"field": "s", "type": "quantitative",
              "scale": {"domain": [16.3, 100.9], "nice": false, "zero": false},
              "axis": {"orient": "right", "grid": false, "domain": true,
                "values": [20, 30, 40, 50, 60, 70, 80, 90], "format": "d", "tickSize": 8,
                "labelAlign": "right", "labelPadding": 36, "labelOffset": 2, "labelFontSize": 12.5,
                "labelOverlap": false, "labelFlush": false, "labelBound": false}},
            "y2": {"datum": 100.9}
          }
        },
        {
          "data": {"name": "upper"},
          "mark": {"type": "line", "color": "#ff0000", "strokeWidth": 1.2, "strokeDash": [2, 2]},
          "encoding": {
            "x": {"field": "t", "type": "quantitative",
              "axis": {"orient": "bottom", "grid": false, "domain": true, "labels": false, "tickSize": 4,
                "values": [2007.0833, 2007.1667, 2007.25, 2007.3333, 2007.4167, 2007.5, 2007.5833, 2007.6667, 2007.75, 2007.8333, 2007.9167,
                  2008.0833, 2008.1667, 2008.25, 2008.3333, 2008.4167, 2008.5, 2008.5833, 2008.6667, 2008.75, 2008.8333, 2008.9167,
                  2009.0833, 2009.1667, 2009.25, 2009.3333, 2009.4167, 2009.5, 2009.5833, 2009.6667, 2009.75, 2009.8333, 2009.9167,
                  2010.0833, 2010.1667, 2010.25, 2010.3333, 2010.4167, 2010.5, 2010.5833, 2010.6667, 2010.75, 2010.8333, 2010.9167,
                  2011.0833, 2011.1667, 2011.25, 2011.3333, 2011.4167, 2011.5, 2011.5833, 2011.6667, 2011.75, 2011.8333, 2011.9167,
                  2012.0833]}},
            "y": {"field": "v", "type": "quantitative",
              "axis": {"orient": "right", "grid": false, "domain": true, "labels": false, "tickSize": 4,
                "values": [25, 35, 45, 55, 65, 75, 85, 95, 100]}}
          }
        },
        {
          "data": {"name": "lower"},
          "mark": {"type": "line", "color": "#008000", "strokeWidth": 1.2, "strokeDash": [2, 2]},
          "encoding": {
            "x": {"field": "t", "type": "quantitative", "axis": null},
            "y": {"field": "v", "type": "quantitative", "axis": null}
          }
        },
        {
          "data": {"name": "opinion"},
          "mark": {"type": "line", "color": "#0000ff", "strokeWidth": 1.5, "interpolate": "step-after"},
          "encoding": {
            "x": {"field": "t", "type": "quantitative", "axis": null},
            "y": {"field": "v", "type": "quantitative", "axis": null}
          }
        },
        {
          "data": {"values": [{"label": "PUBLIC OPINION - SWISS FRANC (23.4300, 23.4300, 23.4300, +0.000)"}]},
          "mark": {"type": "text", "align": "center", "baseline": "alphabetic", "fontSize": 12, "color": "black"},
          "encoding": {
            "x": {"datum": 2009.585, "axis": null},
            "y": {"datum": 96.98, "axis": null},
            "text": {"field": "label"}
          }
        },
        {
          "data": {"values": [{"label": "Copyright 2012, All Rights Reserved  www.sentimenTrader.com"}]},
          "mark": {"type": "text", "align": "left", "baseline": "alphabetic", "fontSize": 12, "fontWeight": "bold", "color": "#6f7896"},
          "encoding": {
            "x": {"datum": 2007.086, "axis": null},
            "y": {"datum": 17.2, "axis": null},
            "text": {"field": "label"}
          }
        }
      ]
    }
  ]
}
